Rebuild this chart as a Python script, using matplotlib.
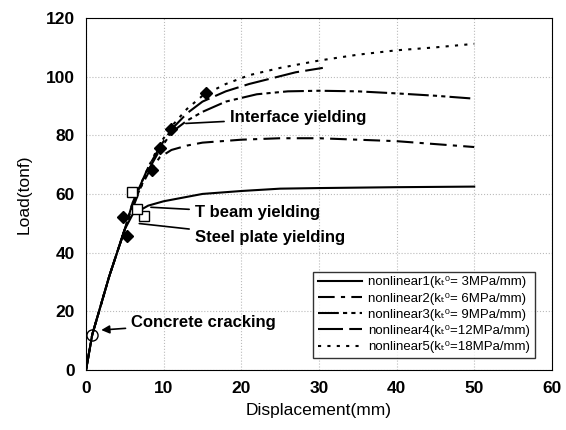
import matplotlib.pyplot as plt

plt.rcParams['font.family'] = ['Liberation Sans', 'DejaVu Sans']

# load-displacement curves
x1 = [0, 0.8, 3, 5, 6, 8, 10, 15, 20, 25, 30, 40, 50]
y1 = [0, 12, 32, 48, 53, 56, 57.5, 60, 61, 61.8, 62, 62.3, 62.5]

x2 = [0, 0.8, 3, 5, 6, 7, 8, 9.5, 11, 13, 15, 20, 25, 30, 40, 50]
y2 = [0, 12, 32, 48, 55, 62, 67, 72.5, 75, 76.5, 77.5, 78.5, 79, 79, 78, 76]

x3 = [0, 0.8, 3, 5, 6, 8, 9.5, 11, 13, 15, 18, 22, 26, 30, 35, 40, 45, 50]
y3 = [0, 12, 32, 48, 56, 68, 75, 81, 85, 88, 91.5, 94, 95, 95.2, 95, 94.3, 93.5, 92.5]

x4 = [0, 0.8, 3, 5, 6, 8, 9.5, 11, 13, 15, 18, 21, 24, 27, 30.5]
y4 = [0, 12, 32, 48, 57, 69, 76, 82, 87.5, 91.5, 95, 97.5, 99.5, 101.5, 103]

x5 = [0, 0.8, 3, 5, 6, 8, 9.5, 11, 13, 15, 18, 21, 25, 30, 35, 40, 45, 50]
y5 = [0, 12, 32, 48, 57, 69, 77, 83, 89, 93.5, 97.5, 100.5, 103, 105.5, 107.5, 109, 110, 111.2]

labels = ['nonlinear1(k\u209c\u2070= 3MPa/mm)',
          'nonlinear2(k\u209c\u2070= 6MPa/mm)',
          'nonlinear3(k\u209c\u2070= 9MPa/mm)',
          'nonlinear4(k\u209c\u2070=12MPa/mm)',
          'nonlinear5(k\u209c\u2070=18MPa/mm)']

# event markers
diamond_x = [5.3, 4.8, 8.5, 9.5, 11, 15.5]
diamond_y = [45.5, 52, 68, 75.5, 82, 94.5]
square_x = [5.9, 7.5, 6.6]
square_y = [60.5, 52.5, 55]
circle_x = [0.8]
circle_y = [12]

fig = plt.figure(figsize=(5.66, 4.30), dpi=100)
ax = fig.add_axes([0.152, 0.140, 0.823, 0.818])

ax.plot(x1, y1, color='black', lw=1.5, linestyle='-', label=labels[0])
ax.plot(x2, y2, color='black', lw=1.5, linestyle=(0, (8, 3, 2, 3)), label=labels[1])
ax.plot(x3, y3, color='black', lw=1.5, linestyle=(0, (10, 2, 2, 2, 2, 2)), label=labels[2])
ax.plot(x4, y4, color='black', lw=1.5, linestyle=(0, (12, 3)), label=labels[3])
ax.plot(x5, y5, color='black', lw=1.5, linestyle=(0, (1.5, 3)), label=labels[4])

ax.plot(diamond_x, diamond_y, 'D', color='black', ms=6, ls='none')
ax.plot(square_x, square_y, 's', mfc='white', mec='black', ms=7, mew=1.0, ls='none')
ax.plot(circle_x, circle_y, 'o', mfc='none', mec='black', ms=8, mew=1.0, ls='none')

bold = dict(fontsize=12, fontweight='bold', va='center', ha='left')
ax.annotate('Interface yielding', xy=(12.5, 84), xytext=(18.5, 86),
            arrowprops=dict(arrowstyle='-', color='black', lw=1.2), **bold)
ax.annotate('T beam yielding', xy=(8, 55.5), xytext=(14, 53.5),
            arrowprops=dict(arrowstyle='-', color='black', lw=1.2), **bold)
ax.annotate('Steel plate yielding', xy=(6.5, 50), xytext=(14, 45),
            arrowprops=dict(arrowstyle='-', color='black', lw=1.2), **bold)
ax.annotate('Concrete cracking', xy=(1.6, 13.5), xytext=(5.8, 16),
            arrowprops=dict(arrowstyle='-|>', color='black', lw=1.2,
                            mutation_scale=12), **bold)

ax.set_xlim(0, 60)
ax.set_ylim(0, 120)
ax.set_xticks(range(0, 61, 10))
ax.set_yticks(range(0, 121, 20))
ax.tick_params(length=0, pad=8, labelsize=12.5)
for t in ax.get_xticklabels() + ax.get_yticklabels():
    t.set_fontweight('bold')
ax.grid(True, color='#bbbbbb', linestyle=':', lw=0.8)

ax.set_xlabel('Displacement(mm)', fontsize=12.5, labelpad=5)
ax.set_ylabel('Load(tonf)', fontsize=12.5, labelpad=10)

leg = ax.legend(loc='lower right', bbox_to_anchor=(0.963, 0.034), fontsize=9.5,
                frameon=True, fancybox=False, edgecolor='black',
                handlelength=3.3, handletextpad=0.5, labelspacing=0.3,
                borderpad=0.35, borderaxespad=0)
leg.get_frame().set_linewidth(1.0)

fig.savefig('out.png', dpi=100)
